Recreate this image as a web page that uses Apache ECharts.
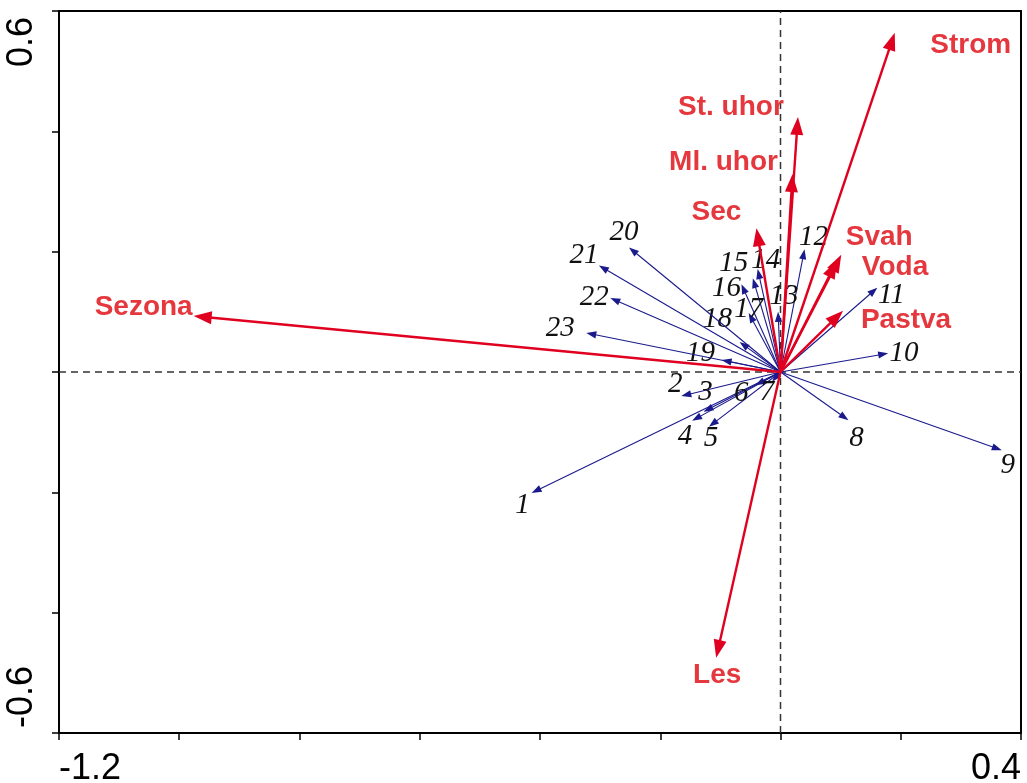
<!DOCTYPE html>
<html>
<head>
<meta charset="utf-8">
<title>Biplot</title>
<script src="https://cdn.jsdelivr.net/npm/echarts@6/dist/echarts.min.js"></script>
<style>
  html, body { margin: 0; padding: 0; background: #fff; }
  #chart { width: 1027px; height: 783px; }
</style>
</head>
<body>
<div id="chart"></div>
<script>
// environmental variables (red arrows)
const envNames = ['Strom', 'St. uhor', 'Ml. uhor', 'Sec', 'Svah', 'Voda', 'Pastva', 'Sezona', 'Les'];
const envX = [0.190, 0.029, 0.020, -0.040, 0.101, 0.094, 0.104, -0.976, -0.107];
const envY = [0.564, 0.424, 0.329, 0.239, 0.195, 0.185, 0.102, 0.093, -0.475];

// species (blue arrows)
const spNames = ['1', '2', '3', '4', '5', '6', '7', '8', '9', '10', '11', '12',
  '13', '14', '15', '16', '17', '18', '19', '20', '21', '22', '23'];
const spX = [-0.414, -0.165, -0.128, -0.147, -0.119, -0.042, -0.014, 0.113, 0.368, 0.179, 0.161, 0.040,
  -0.004, -0.038, -0.046, -0.065, -0.053, -0.068, -0.098, -0.252, -0.302, -0.283, -0.323];
const spY = [-0.201, -0.040, -0.066, -0.081, -0.091, -0.022, -0.016, -0.080, -0.130, 0.031, 0.140, 0.204,
  0.100, 0.171, 0.156, 0.146, 0.098, 0.050, 0.020, 0.207, 0.177, 0.123, 0.065];

// axis labels that are shown
const xTickLabels = [-1.2, 0.4];
const yTickLabels = [0.6, -0.6];

// label placement relative to arrow tip, px
const envLabelOffset = [[76, 13], [-67, -10], [-69, -12], [-40, -16], [38, -17], [58, 7], [63, 10], [-50, -9], [1, 17]];
const spLabelOffset = [[-9, 12], [-6, -12], [2, -19], [-7, 16], [2, 12], [-14, 8], [-5, 11], [8, 18], [6, 15],
  [16, 0], [14, 8], [9, -12], [6, -15], [8, -9], [-19, -15], [-15, 4], [0, -4], [-22, -23], [-21, -7],
  [-5, -15], [-15, -10], [-16, -1], [-26, -5]];

function makeArrows(names, offsets, opt) {
  return function (params, api) {
    const i = params.dataIndex;
    const o = api.coord([0, 0]);
    const t = api.coord([api.value(0), api.value(1)]);
    const dx = t[0] - o[0], dy = t[1] - o[1];
    const len = Math.sqrt(dx * dx + dy * dy) || 1;
    const ux = dx / len, uy = dy / len;
    const bx = t[0] - ux * opt.headLen, by = t[1] - uy * opt.headLen;
    const h = opt.headHalf;
    return {
      type: 'group',
      children: [
        {
          type: 'line',
          shape: { x1: o[0], y1: o[1], x2: bx + ux * 2, y2: by + uy * 2 },
          style: { stroke: opt.color, lineWidth: opt.lineWidth }
        },
        {
          type: 'polygon',
          shape: { points: [[t[0], t[1]], [bx - uy * h, by + ux * h], [bx + uy * h, by - ux * h]] },
          style: { fill: opt.color }
        },
        {
          type: 'text',
          x: t[0] + offsets[i][0],
          y: t[1] + offsets[i][1],
          style: {
            text: names[i],
            fill: opt.textColor,
            font: opt.font,
            align: 'center',
            verticalAlign: 'middle'
          }
        }
      ]
    };
  };
}

function pickLabel(list) {
  return function (v) {
    for (const t of list) {
      if (Math.abs(v - t) < 1e-6) return String(t);
    }
    return '';
  };
}

const chart = echarts.init(document.getElementById('chart'));

const option = {
  animation: false,
  backgroundColor: '#fff',
  grid: {
    left: 59, right: 6, top: 11, bottom: 50,
    containLabel: false,
    outerBoundsMode: 'none',
    show: true, borderColor: '#000', borderWidth: 2
  },
  xAxis: {
    type: 'value',
    min: -1.2, max: 0.4, interval: 0.2,
    splitLine: { show: false },
    axisLine: { onZero: false, lineStyle: { color: '#000', width: 2 } },
    axisTick: { length: 7, lineStyle: { color: '#000', width: 1.5 } },
    axisLabel: {
      formatter: pickLabel(xTickLabels),
      fontSize: 36, fontFamily: 'Liberation Sans, Arial, sans-serif', color: '#000',
      margin: 18,
      showMinLabel: true, showMaxLabel: true,
      alignMinLabel: 'left', alignMaxLabel: 'right',
      hideOverlap: false
    }
  },
  yAxis: {
    type: 'value',
    min: -0.6, max: 0.6, interval: 0.2,
    splitLine: { show: false },
    axisLine: { onZero: false, lineStyle: { color: '#000', width: 2 } },
    axisTick: { length: 7, lineStyle: { color: '#000', width: 1.5 } },
    axisLabel: {
      formatter: pickLabel(yTickLabels),
      rotate: 90,
      fontSize: 36, fontFamily: 'Liberation Sans, Arial, sans-serif', color: '#000',
      margin: 19,
      padding: [0, 6, 0, 5],
      showMinLabel: true, showMaxLabel: true,
      alignMinLabel: 'left', alignMaxLabel: 'right',
      hideOverlap: false
    }
  },
  series: [
    {
      type: 'line',
      data: [[0, -0.6], [0, 0.6]],
      symbol: 'none',
      lineStyle: { color: '#333', width: 1.5, type: [7, 5] },
      silent: true, z: 1
    },
    {
      type: 'line',
      data: [[-1.2, 0], [0.4, 0]],
      symbol: 'none',
      lineStyle: { color: '#333', width: 1.5, type: [7, 5] },
      silent: true, z: 1
    },
    {
      type: 'custom',
      renderItem: makeArrows(spNames, spLabelOffset, {
        color: '#1a1a8c', lineWidth: 1.1, headLen: 10, headHalf: 3.6,
        textColor: '#111', font: 'italic 29px "Liberation Serif", "Times New Roman", serif'
      }),
      data: spX.map((x, i) => [x, spY[i]]),
      encode: { x: 0, y: 1 },
      silent: true, z: 2
    },
    {
      type: 'custom',
      renderItem: makeArrows(envNames, envLabelOffset, {
        color: '#e0001f', lineWidth: 2.4, headLen: 18, headHalf: 6.5,
        textColor: '#e5383e', font: 'bold 28px "Liberation Sans", Arial, sans-serif'
      }),
      data: envX.map((x, i) => [x, envY[i]]),
      encode: { x: 0, y: 1 },
      silent: true, z: 3
    }
  ]
};

chart.setOption(option);
</script>
</body>
</html>
